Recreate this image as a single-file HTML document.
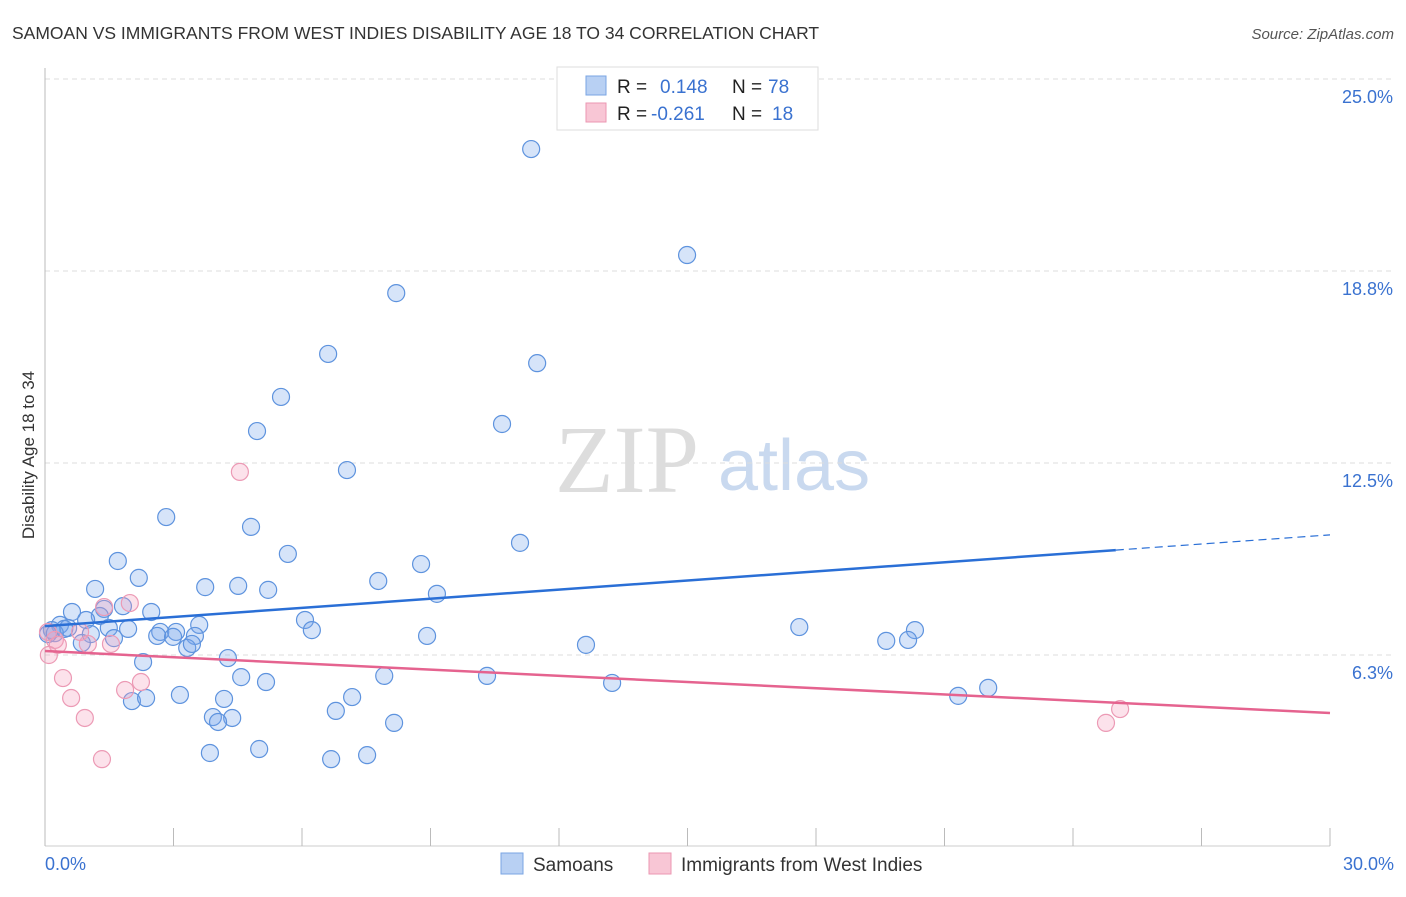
<!DOCTYPE html>
<html><head><meta charset="utf-8"><style>
body{margin:0;background:#fff;font-family:"Liberation Sans",sans-serif}
</style></head><body>
<svg id="c" width="1406" height="892" xmlns="http://www.w3.org/2000/svg">
<text x="12" y="39" font-size="17.5" fill="#333">SAMOAN VS IMMIGRANTS FROM WEST INDIES DISABILITY AGE 18 TO 34 CORRELATION CHART</text>
<text x="1394" y="39" font-size="15" fill="#555" font-style="italic" text-anchor="end">Source: ZipAtlas.com</text>
<text x="555" y="492" font-size="96" fill="#ddd" font-family="Liberation Serif,serif">ZIP</text>
<text x="718" y="490" font-size="72" fill="#c9d9ef">atlas</text>
<text transform="translate(34,455) rotate(-90)" font-size="17" fill="#333" text-anchor="middle">Disability Age 18 to 34</text>
<g id="grid"></g><g id="marks"></g>
<g>
<rect x="557" y="67" width="261" height="63" fill="#fff" stroke="#ddd"/>
<rect x="586" y="76" width="20" height="19" fill="#b8d0f3" stroke="#7aa5e3"/>
<rect x="586" y="103" width="20" height="19" fill="#f8c6d5" stroke="#eb97b2"/>
<text x="617" y="93" font-size="19" fill="#222">R = </text><text x="660" y="93" font-size="19" fill="#3a72d0">0.148</text>
<text x="732" y="93" font-size="19" fill="#222">N = </text><text x="768" y="93" font-size="19" fill="#3a72d0">78</text>
<text x="617" y="120" font-size="19" fill="#222">R = </text><text x="651" y="120" font-size="19" fill="#3a72d0">-0.261</text>
<text x="732" y="120" font-size="19" fill="#222">N = </text><text x="772" y="120" font-size="19" fill="#3a72d0">18</text>
</g>
<g>
<rect x="501" y="853" width="22" height="21" fill="#b8d0f3" stroke="#7aa5e3"/>
<text x="533" y="871" font-size="19" fill="#333">Samoans</text>
<rect x="649" y="853" width="22" height="21" fill="#f8c6d5" stroke="#eb97b2"/>
<text x="681" y="871" font-size="19" fill="#333">Immigrants from West Indies</text>
</g>
</svg>
<script>
const yTicks=[25,18.75,12.5,6.25];
const yTickLabels=["25.0%","18.8%","12.5%","6.3%"];
const xTickLabels=["0.0%","30.0%"];
const blueX=[11.35,14.99,8.20,6.61,11.49,5.51,10.67,4.95,7.05,2.83,4.81,11.09,5.67,1.70,8.78,2.19,7.78,4.51,3.74,1.17,5.21,9.15,1.82,2.48,0.63,1.38,1.28,6.07,3.60,0.96,0.35,0.54,0.16,0.07,1.49,1.94,6.23,2.69,3.06,2.62,2.99,3.50,1.07,1.61,8.92,17.61,20.31,19.64,20.15,12.63,3.32,3.43,0.86,2.29,4.27,10.32,7.92,4.58,5.16,13.24,22.02,21.32,3.15,4.18,7.17,2.03,2.36,6.79,3.92,4.37,4.04,8.15,3.85,5.00,6.68,7.52,0.23,0.45];
const blueY=[22.72,19.27,18.03,16.05,15.75,14.65,13.77,13.54,12.27,10.74,10.42,9.90,9.54,9.31,9.21,8.76,8.66,8.50,8.46,8.40,8.37,8.24,7.84,7.65,7.65,7.75,7.52,7.39,7.23,7.39,7.23,7.13,7.06,6.93,7.13,7.10,7.06,7.00,7.00,6.87,6.84,6.87,6.93,6.80,6.87,7.16,7.06,6.71,6.74,6.58,6.48,6.61,6.64,6.02,6.15,5.57,5.57,5.53,5.37,5.34,5.18,4.92,4.95,4.82,4.88,4.75,4.85,4.43,4.23,4.20,4.07,4.04,3.06,3.19,2.86,2.99,6.96,7.10];
const pinkX=[4.55,1.98,1.38,0.82,0.23,0.30,0.09,1.00,1.54,0.42,0.61,0.93,1.33,1.87,2.24,24.77,25.10,0.07];
const pinkY=[12.21,7.94,7.81,7.00,6.74,6.58,6.25,6.61,6.61,5.50,4.85,4.20,2.86,5.11,5.37,4.04,4.49,7.00];
const blueTrend=[7.19,10.16]; const pinkTrend=[6.38,4.36];
const NS="http://www.w3.org/2000/svg";
const xs=v=>45+v/30*1285, ys=v=>847-v*30.72;
function mk(t,a,p){const e=document.createElementNS(NS,t);for(const k in a)e.setAttribute(k,a[k]);p.appendChild(e);return e;}
const g=document.getElementById('grid'), m=document.getElementById('marks');
yTicks.forEach((t,i)=>{
 const l=mk('line',{x1:45,x2:1394,y1:ys(t),y2:ys(t),stroke:'#ddd','stroke-dasharray':'5,4'},g);
 
 
 const tx=mk('text',{x:1393,y:ys(t)+24,'font-size':18,fill:'#3a72d0','text-anchor':'end'},g);
 tx.textContent=yTickLabels[i];
 
 
});
mk('line',{x1:45,x2:45,y1:68,y2:846,stroke:'#bbb'},g);
mk('line',{x1:45,x2:1330,y1:846,y2:846,stroke:'#ccc'},g);
for(let i=0;i<=10;i++){const x=xs(i*3);mk('line',{x1:x,x2:x,y1:828,y2:846,stroke:'#bbb'},g);}
const x0=mk('text',{x:45,y:870,'font-size':18,fill:'#3a72d0'},g);x0.textContent=xTickLabels[0];


const x1=mk('text',{x:1394,y:870,'font-size':18,fill:'#3a72d0','text-anchor':'end'},g);x1.textContent=xTickLabels[1];


blueX.forEach((x,i)=>{const c=mk('circle',{cx:xs(x),cy:ys(blueY[i]),r:8.5,fill:'rgba(120,165,235,0.3)',stroke:'#5e93de','stroke-width':1.2},m);
 
 });
pinkX.forEach((x,i)=>{const c=mk('circle',{cx:xs(x),cy:ys(pinkY[i]),r:8.5,fill:'rgba(245,160,190,0.3)',stroke:'#ec9ab5','stroke-width':1.2},m);
 
 });
const bAt=x=>blueTrend[0]+(blueTrend[1]-blueTrend[0])*x/30;
const bl=mk('line',{x1:xs(0),y1:ys(bAt(0)),x2:xs(25),y2:ys(bAt(25)),stroke:'#2a6fd6','stroke-width':2.5},m);


const bd=mk('line',{x1:xs(25),y1:ys(bAt(25)),x2:xs(30),y2:ys(bAt(30)),stroke:'#2a6fd6','stroke-width':1.2,'stroke-dasharray':'8,5'},m);


const pl=mk('line',{x1:xs(0),y1:ys(pinkTrend[0]),x2:xs(30),y2:ys(pinkTrend[1]),stroke:'#e5638f','stroke-width':2.5},m);


</script>
</body></html>
